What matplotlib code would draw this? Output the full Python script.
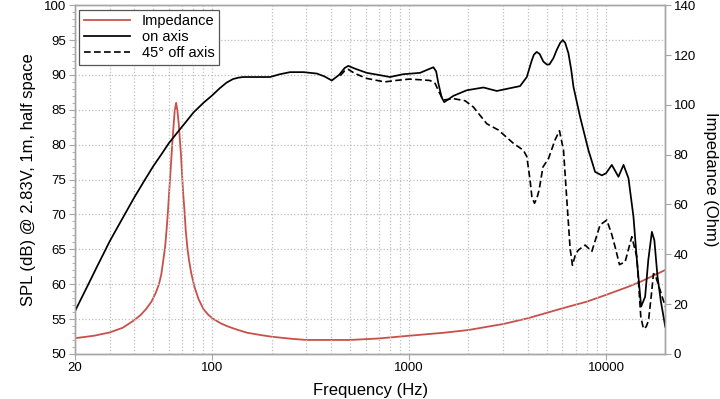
import matplotlib
matplotlib.use('Agg')
import matplotlib.pyplot as plt
from matplotlib.ticker import FixedLocator, NullFormatter, MultipleLocator

plt.rcParams['font.family'] = ['Liberation Sans', 'DejaVu Sans']

# on axis response (Hz, dB)
on_freq = [20, 22, 24, 26, 28, 30, 33, 36, 40, 45, 50, 55, 60, 67, 74, 80, 90, 100,
           109, 118, 127, 135, 143, 170, 196, 220, 248, 290, 339, 370, 404, 440, 470, 490,
           530, 608, 700, 798, 930, 1135, 1250, 1327, 1370, 1406, 1460, 1506, 1580, 1676,
           1960, 2382, 2785, 3252, 3658, 3957, 4196, 4300, 4440, 4600, 4806, 5000, 5156,
           5400, 5620, 5850, 6030, 6200, 6440, 6650, 6830, 7380, 8140, 8800, 9520, 10000,
           10700, 11560, 12270, 13000, 13780, 14340, 15080, 15800, 16400, 17100, 17600,
           18260, 19000, 20000]
on_spl = [56.1, 58.45, 60.6, 62.6, 64.4, 66.1, 68.2, 70.1, 72.4, 74.8, 76.9, 78.6, 80.2,
          81.9, 83.4, 84.6, 86.0, 87.1, 88.1, 88.9, 89.4, 89.6, 89.7, 89.7, 89.7, 90.1,
          90.4, 90.4, 90.2, 89.8, 89.2, 90.0, 91.0, 91.3, 90.9, 90.3, 90.0, 89.7, 90.1,
          90.3, 90.8, 91.1, 90.5, 88.8, 86.8, 86.1, 86.5, 87.0, 87.8, 88.2, 87.7, 88.1,
          88.4, 89.7, 92.1, 92.9, 93.3, 93.0, 91.9, 91.5, 91.5, 92.4, 93.6, 94.6, 95.0,
          94.6, 93.1, 90.8, 88.3, 84.0, 79.2, 76.1, 75.6, 75.9, 77.1, 75.4, 77.1, 75.2,
          69.7, 63.5, 56.8, 58.2, 63.5, 67.5, 66.3, 61.1, 57.5, 53.9]

# 45 deg off axis response (Hz, dB)
off_freq = [446, 470, 490, 530, 608, 750, 850, 1000, 1150, 1276, 1352, 1420, 1490, 1676,
            1922, 2118, 2478, 2838, 3380, 3800, 3957, 4112, 4200, 4330, 4450, 4570, 4780,
            5100, 5510, 5800, 6080, 6320, 6570, 6750, 7000, 7240, 7830, 8470, 9330, 10090,
            10700, 11200, 11700, 12500, 13520, 14340, 15020, 15500, 16000, 16440, 17000,
            17420, 17800, 18260, 20000]
off_spl = [89.9, 90.6, 90.8, 90.2, 89.5, 89.0, 89.2, 89.4, 89.3, 89.2, 88.8, 87.5, 86.4,
           86.6, 86.3, 85.4, 83.0, 82.1, 80.2, 79.2, 78.3, 74.9, 72.5, 71.6, 72.3, 73.5,
           76.8, 78.0, 80.7, 82.0, 79.2, 72.1, 65.1, 62.7, 64.3, 64.9, 65.6, 64.7, 68.5,
           69.2, 67.1, 65.0, 62.8, 63.2, 66.8, 63.9, 55.3, 53.6, 53.9, 54.8, 58.5, 61.5,
           61.3, 60.3, 56.8]

# impedance (Hz, Ohm)
imp_freq = [20, 25, 30, 35, 40, 43, 46, 49, 51.5, 53.5, 55, 56.3, 57.5, 58.5, 59.4, 60.2,
            61.1, 62, 62.7, 63.4, 64.3, 65.4, 66.4, 67.5, 68.3, 69.2, 70.1, 71, 72.2, 73.1,
            74.5, 76, 78, 81, 85, 90, 95, 100, 110, 120, 135, 150, 175, 200, 250, 300, 500,
            700, 1000, 1500, 2000, 3000, 4000, 6000, 8000, 10000, 13000, 15000, 20000]
imp_ohm = [6.3, 7.3, 8.6, 10.5, 13.5, 15.5, 18.0, 21.0, 24.5, 28.0, 32.0, 37.7, 43.0, 50.0,
           57.0, 64.4, 72.0, 80.0, 86.0, 91.2, 97.5, 100.8, 97.5, 92.0, 86.0, 80.0, 72.0,
           64.4, 57.0, 50.0, 43.0, 37.7, 32.5, 27.0, 22.0, 18.0, 15.8, 14.3, 12.3, 11.0,
           9.6, 8.5, 7.6, 6.9, 6.1, 5.6, 5.6, 6.2, 7.3, 8.5, 9.6, 12.0, 14.3, 18.3, 21.0,
           23.7, 27.0, 29.0, 33.7]

x_major = [20, 100, 1000, 10000]
x_minor = [30, 40, 50, 60, 70, 80, 90, 200, 300, 400, 500, 600, 700, 800, 900,
           2000, 3000, 4000, 5000, 6000, 7000, 8000, 9000, 20000]

red = '#c8504a'
gray = '#a6a6a6'

fig = plt.figure(figsize=(7.2, 3.99), dpi=100)
ax = fig.add_axes([0.104, 0.113, 0.82, 0.874])
ax2 = ax.twinx()
ax.set_zorder(2)
ax.patch.set_visible(False)

l_imp, = ax2.plot(imp_freq, imp_ohm, color=red, lw=1.3, label='Impedance')
l_on, = ax.plot(on_freq, on_spl, color='black', lw=1.25, label='on axis')
l_off, = ax.plot(off_freq, off_spl, color='black', lw=1.2, ls=(0, (4, 2)), label='45° off axis')

ax.set_xscale('log')
ax.set_xlim(20, 20000)
ax.set_ylim(50, 100)
ax2.set_ylim(0, 140)

ax.xaxis.set_major_locator(FixedLocator(x_major))
ax.xaxis.set_minor_locator(FixedLocator(x_minor))
ax.xaxis.set_minor_formatter(NullFormatter())
ax.set_xticklabels([str(v) for v in x_major])
ax.yaxis.set_major_locator(MultipleLocator(5))
ax.yaxis.set_minor_locator(MultipleLocator(1))
ax2.yaxis.set_major_locator(MultipleLocator(20))

ax.grid(True, which='both', axis='x', color='#bdbdbd', ls=':', lw=0.9)
ax.grid(True, which='major', axis='y', color='#bdbdbd', ls=':', lw=0.9)

for a in (ax, ax2):
    for s in a.spines.values():
        s.set_color(gray)
        s.set_linewidth(1.0)
ax.tick_params(which='major', color=gray, length=4, labelsize=9.5, pad=2)
ax.tick_params(which='minor', color=gray, length=2.5)
ax.tick_params(axis='x', which='minor', length=0)
ax2.tick_params(color=gray, length=4, labelsize=9.5, pad=2)

ax.set_xlabel('Frequency (Hz)', fontsize=12, labelpad=6)
ax.set_ylabel('SPL (dB) @ 2.83V, 1m, half space', fontsize=12, labelpad=6)
ax2.set_ylabel('Impedance (Ohm)', fontsize=12, rotation=270, labelpad=16)

leg = ax.legend(handles=[l_imp, l_on, l_off], loc='upper left', fontsize=10.5,
                fancybox=False, framealpha=1, edgecolor='#555555',
                handlelength=3.2, borderpad=0.3, labelspacing=0.15,
                bbox_to_anchor=(0.0, 1.0), borderaxespad=0.3)
leg.get_frame().set_linewidth(0.9)

fig.savefig('out.png', dpi=100)
